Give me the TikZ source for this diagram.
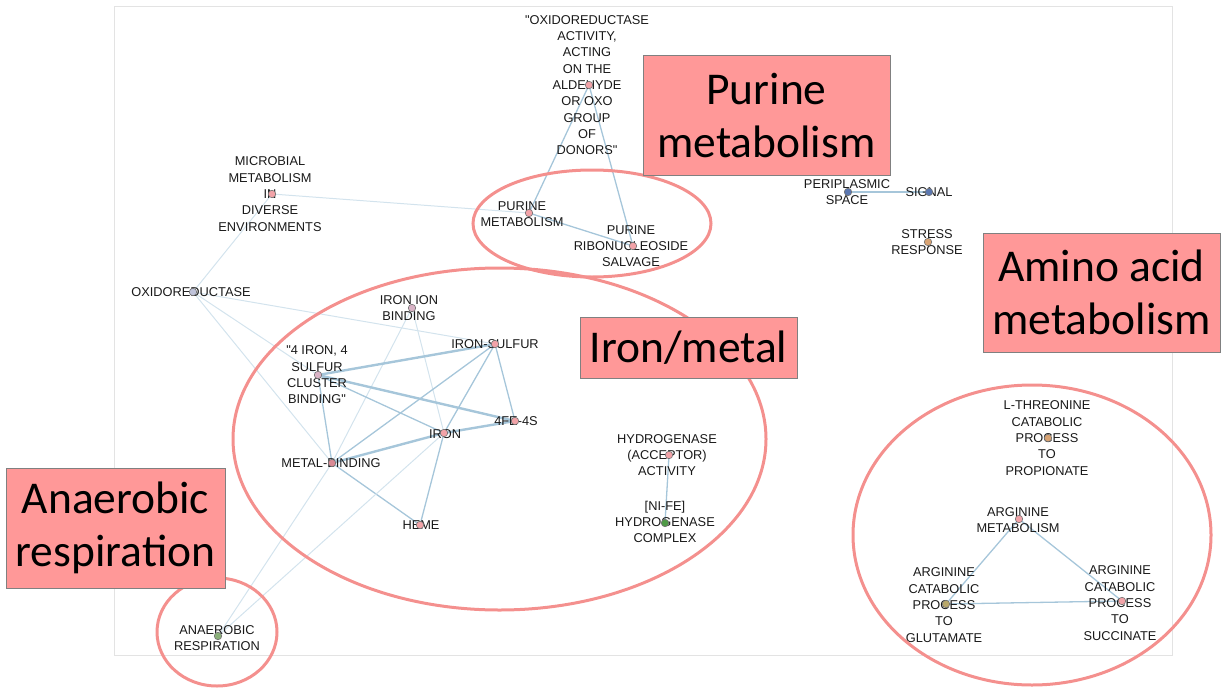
\documentclass[tikz,border=0pt]{standalone}
\usepackage{fontspec}
\newfontfamily\lblfont{Liberation Sans}
\newfontfamily\boxfont{Carlito}
\usetikzlibrary{backgrounds}

\definecolor{edgeblue}{HTML}{A6C6DA}
\definecolor{edgepale}{HTML}{D3E3ED}
\definecolor{ringred}{HTML}{F4908E}
\definecolor{boxpink}{HTML}{FF9898}
\definecolor{dotpink}{HTML}{F2A3A8}
\definecolor{dotlilac}{HTML}{D9B3C6}
\definecolor{dotgrey}{HTML}{BFC3DA}
\definecolor{dotrose}{HTML}{D98A95}
\definecolor{dotgreen}{HTML}{4E9A46}
\definecolor{dotblue}{HTML}{5B77B0}
\definecolor{dotorange}{HTML}{D8A373}
\definecolor{dotolive}{HTML}{B9A86A}
\definecolor{dotsage}{HTML}{8BB07A}

\tikzset{
  term/.style={font=\lblfont\fontsize{12.8}{16.3}\selectfont, align=center,
    inner sep=0pt, text=black!90},
  vtx/.style={circle, draw=black!55, fill=#1, inner sep=0pt, minimum size=7.5pt,
    line width=0.6pt},
  vtx/.default=dotpink,
  link/.style={draw=edgepale, line width=1pt},
  midlink/.style={draw=edgeblue, line width=1.3pt},
  heavy/.style={draw=edgeblue, line width=2.4pt},
  ring/.style={draw=ringred, line width=3pt},
  tag/.style={draw=gray, fill=boxpink, line width=1pt, align=center, inner sep=0pt,
    font=\boxfont\fontsize{45.5}{53}\selectfont}
}

\begin{document}
\begin{tikzpicture}[x=1pt, y=-1pt]
\useasboundingbox (0,0) rectangle (1225,698);

% Labels
\node[term] (oxaldlbl) at (587,85) {"OXIDOREDUCTASE\\ACTIVITY,\\ACTING\\ON THE\\ALDEHYDE\\OR OXO\\GROUP\\OF\\DONORS"};
\node[term] (purmetlbl) at (522,214) {PURINE\\METABOLISM};
\node[term] (pursalvlbl) at (631,246) {PURINE\\RIBONUCLEOSIDE\\SALVAGE};
\node[term] (microblbl) at (270,194) {MICROBIAL\\METABOLISM\\IN\\DIVERSE\\ENVIRONMENTS};
\node[term] (oxidolbl) at (191,292) {OXIDOREDUCTASE};
\node[term] (ironionlbl) at (409,308) {IRON ION\\BINDING};
\node[term] (ironsulflbl) at (495,344) {IRON-SULFUR};
\node[term] (fourfelbl) at (317,375) {"4 IRON, 4\\SULFUR\\CLUSTER\\BINDING"};
\node[term] (fefslbl) at (516,421) {4FE-4S};
\node[term] (ironlbl) at (445,434) {IRON};
\node[term] (metalblbl) at (331,463) {METAL-BINDING};
\node[term] (hemelbl) at (421,525) {HEME};
\node[term] (hydrolbl) at (667,455) {HYDROGENASE\\(ACCEPTOR)\\ACTIVITY};
\node[term] (nifelbl) at (665,522) {[NI-FE]\\HYDROGENASE\\COMPLEX};
\node[term] (perilbl) at (847,192) {PERIPLASMIC\\SPACE};
\node[term] (signallbl) at (929,192) {SIGNAL};
\node[term] (stresslbl) at (927,242) {STRESS\\RESPONSE};
\node[term] (threlbl) at (1047,438) {L-THREONINE\\CATABOLIC\\PROCESS\\TO\\PROPIONATE};
\node[term] (argmetlbl) at (1018,520) {ARGININE\\METABOLISM};
\node[term] (glutlbl) at (944,605) {ARGININE\\CATABOLIC\\PROCESS\\TO\\GLUTAMATE};
\node[term] (succlbl) at (1120,603) {ARGININE\\CATABOLIC\\PROCESS\\TO\\SUCCINATE};
\node[term] (anaerlbl) at (217,638) {ANAEROBIC\\RESPIRATION};

% Dots
\node[vtx] (oxald) at (589,85) {};
\node[vtx] (purmet) at (529,213) {};
\node[vtx] (pursalv) at (633,246) {};
\node[vtx] (microb) at (272,194) {};
\node[vtx=dotgrey] (oxido) at (193,292) {};
\node[vtx=dotlilac] (ironion) at (412,308) {};
\node[vtx] (ironsulf) at (495,344) {};
\node[vtx=dotlilac] (fourfe) at (318,375) {};
\node[vtx] (fefs) at (515,421) {};
\node[vtx] (iron) at (444,433) {};
\node[vtx=dotrose] (metalb) at (332,463) {};
\node[vtx] (heme) at (420,525) {};
\node[vtx] (hydro) at (669,455) {};
\node[vtx=dotgreen] (nife) at (665,523) {};
\node[vtx=dotblue] (peri) at (848,192) {};
\node[vtx=dotblue] (signal) at (929,192) {};
\node[vtx=dotorange] (stress) at (928,242) {};
\node[vtx=dotorange] (thre) at (1048,438) {};
\node[vtx] (argmet) at (1019,519) {};
\node[vtx=dotolive] (glut) at (946,604) {};
\node[vtx] (succ) at (1122,601) {};
\node[vtx=dotsage] (anaer) at (218,636) {};

% Frame and edges behind everything
\begin{pgfonlayer}{background}
\draw[gray!22, line width=0.8pt] (114,6) rectangle (1172,655);
\draw[midlink] (oxald.center) -- (purmet.center);
\draw[midlink] (oxald.center) -- (pursalv.center);
\draw[midlink] (purmet.center) -- (pursalv.center);
\draw[link] (microb.center) -- (purmet.center);
\draw[link] (microb.center) -- (oxido.center);
\draw[link] (oxido.center) -- (ironsulf.center);
\draw[link] (oxido.center) -- (fourfe.center);
\draw[link] (oxido.center) -- (metalb.center);
\draw[link] (ironion.center) -- (iron.center);
\draw[link] (ironion.center) -- (metalb.center);
\draw[heavy] (fourfe.center) -- (ironsulf.center);
\draw[heavy] (fourfe.center) -- (fefs.center);
\draw[midlink] (fourfe.center) -- (iron.center);
\draw[midlink] (fourfe.center) -- (metalb.center);
\draw[midlink] (ironsulf.center) -- (fefs.center);
\draw[midlink] (ironsulf.center) -- (iron.center);
\draw[midlink] (ironsulf.center) -- (metalb.center);
\draw[heavy] (iron.center) -- (fefs.center);
\draw[heavy] (iron.center) -- (metalb.center);
\draw[midlink] (iron.center) -- (heme.center);
\draw[midlink] (metalb.center) -- (heme.center);
\draw[link] (anaer.center) -- (metalb.center);
\draw[link] (anaer.center) -- (iron.center);
\draw[midlink] (hydro.center) -- (nife.center);
\draw[midlink] (peri.center) -- (signal.center);
\draw[midlink] (argmet.center) -- (glut.center);
\draw[midlink] (argmet.center) -- (succ.center);
\draw[midlink] (glut.center) -- (succ.center);
\end{pgfonlayer}

% Group rings
\draw[ring] (592,223.5) ellipse [x radius=119, y radius=53.5];
\draw[ring] (499.5,439) ellipse [x radius=266.5, y radius=171];
\draw[ring] (1032,535) ellipse [x radius=179, y radius=150];
\draw[ring] (217,632) ellipse [x radius=60, y radius=54];

% Group tags
\node[tag, minimum width=247pt, minimum height=119pt] (purtag) at (766.5,115.5) {Purine\\metabolism};
\node[tag, minimum width=237pt, minimum height=119pt] (aminotag) at (1101.5,292.5) {Amino acid\\metabolism};
\node[tag, minimum width=217pt, minimum height=61pt] (irontag) at (688.5,347.5) {Iron/metal};
\node[tag, minimum width=219pt, minimum height=120pt] (anaertag) at (115.5,528) {Anaerobic\\respiration};

\end{tikzpicture}
\end{document}
